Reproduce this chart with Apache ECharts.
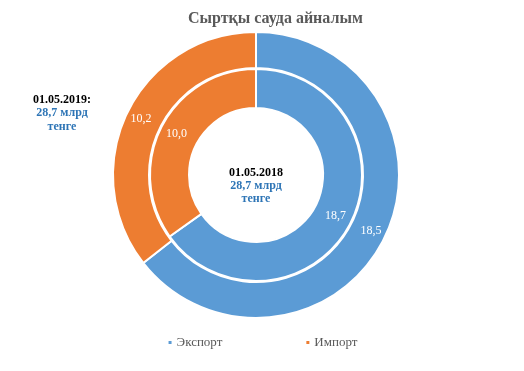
<!DOCTYPE html>
<html><head><meta charset="utf-8">
<script src="https://cdn.jsdelivr.net/npm/echarts@6/dist/echarts.min.js"></script>
<style>html,body{margin:0;padding:0;background:#fff}#c{width:524px;height:371px}</style>
</head><body><div id="c"></div>
<script>
var categories = ['Экспорт', 'Импорт'];
var values2019 = [18.5, 10.2];
var values2018 = [18.7, 10.0];
var colors = ['#5B9BD5', '#ED7D31'];
var serif = '"Liberation Serif","Times New Roman",serif';

function mk(vals){ return categories.map(function(c,i){ return {name:c, value:vals[i]}; }); }
var lbl = {show:true, position:'inside', color:'#fff', fontFamily:serif, fontSize:12,
  formatter:function(p){ return String(p.value.toFixed(1)).replace('.', ','); }};

var chart = echarts.init(document.getElementById('c'));
chart.setOption({
  animation:false,
  color: colors,
  title:{text:'Сыртқы сауда айналым', left:183, top:6,
    textStyle:{fontFamily:serif, fontSize:16, fontWeight:'bold', color:'#595959'}},
  legend:{bottom:17, left:'center', itemWidth:5, itemHeight:5, itemGap:82, icon:'rect',
    textStyle:{fontFamily:serif, fontSize:13, color:'#595959', padding:[0,0,0,-1]},
    data:categories},
  series:[
    {type:'pie', name:'2019', center:[256,175], radius:[107,143], startAngle:90, clockwise:true,
     itemStyle:{borderColor:'#fff', borderWidth:2}, label:lbl, labelLine:{show:false},
     data: mk(values2019)},
    {type:'pie', name:'2018', center:[256,175], radius:[67,106], startAngle:90, clockwise:true,
     itemStyle:{borderColor:'#fff', borderWidth:2}, label:lbl, labelLine:{show:false},
     data: mk(values2018)}
  ],
  graphic:[
    {type:'text', x:62, y:100, style:{text:'01.05.2019:', align:'center', verticalAlign:'middle', fill:'#000', font:'bold 12px '+serif}},
    {type:'text', x:62, y:113, style:{text:'28,7 млрд', align:'center', verticalAlign:'middle', fill:'#2E75B6', font:'bold 12px '+serif}},
    {type:'text', x:62, y:127, style:{text:'тенге', align:'center', verticalAlign:'middle', fill:'#2E75B6', font:'bold 12px '+serif}},
    {type:'text', x:256, y:173, style:{text:'01.05.2018', align:'center', verticalAlign:'middle', fill:'#000', font:'bold 12px '+serif}},
    {type:'text', x:256, y:186, style:{text:'28,7 млрд', align:'center', verticalAlign:'middle', fill:'#2E75B6', font:'bold 12px '+serif}},
    {type:'text', x:256, y:199, style:{text:'тенге', align:'center', verticalAlign:'middle', fill:'#2E75B6', font:'bold 12px '+serif}}
  ]
});
</script></body></html>
